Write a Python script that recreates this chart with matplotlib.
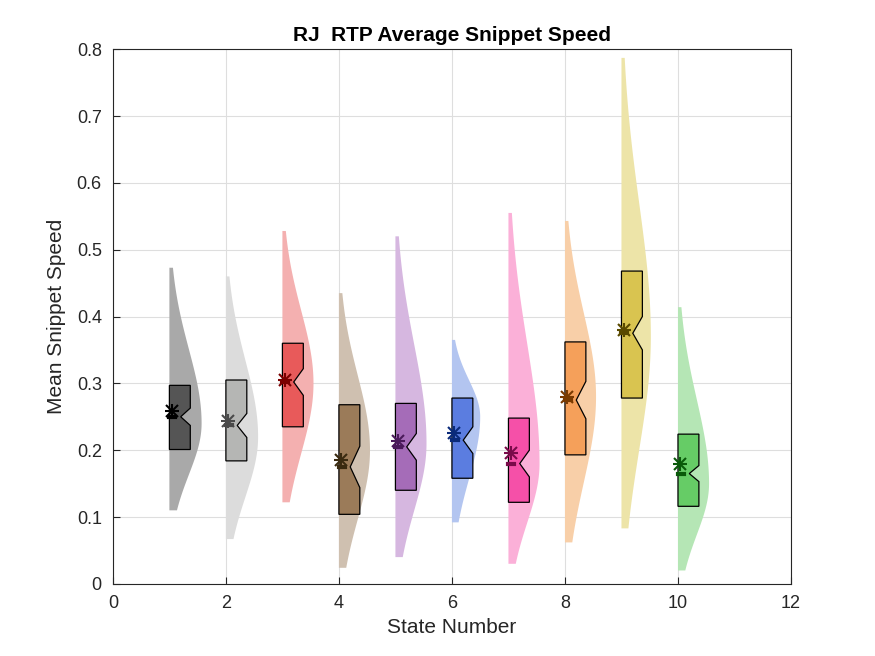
import numpy as np
import matplotlib.pyplot as plt
from matplotlib.patches import Polygon

plt.rcParams['font.family'] = ['Liberation Sans', 'DejaVu Sans']

states = np.arange(1, 11)
# violin extent and peak position
v_min = [0.110, 0.067, 0.122, 0.024, 0.040, 0.092, 0.030, 0.062, 0.083, 0.020]
v_max = [0.473, 0.460, 0.528, 0.435, 0.520, 0.365, 0.555, 0.543, 0.787, 0.414]
v_peak = [0.240, 0.220, 0.300, 0.200, 0.210, 0.250, 0.180, 0.280, 0.370, 0.150]
v_width = [0.57, 0.57, 0.55, 0.55, 0.55, 0.50, 0.55, 0.55, 0.52, 0.55]
# box statistics
q1 = [0.201, 0.184, 0.235, 0.104, 0.140, 0.158, 0.122, 0.193, 0.278, 0.116]
q3 = [0.297, 0.305, 0.360, 0.268, 0.270, 0.278, 0.248, 0.362, 0.468, 0.224]
med = [0.250, 0.237, 0.302, 0.175, 0.205, 0.215, 0.180, 0.275, 0.375, 0.165]
notch = [0.013, 0.018, 0.020, 0.031, 0.020, 0.020, 0.020, 0.028, 0.025, 0.012]
mean = [0.258, 0.243, 0.305, 0.185, 0.213, 0.226, 0.196, 0.280, 0.380, 0.180]

box_c = ['#555555', '#b5b6b4', '#e85a5a', '#9b7b59', '#a56cb8',
         '#5b7de0', '#f550a8', '#f5a05a', '#d9c450', '#66cc66']
vio_c = ['#a9a9a9', '#dcdcdc', '#f4b0b0', '#cfc0b0', '#d6b7e0',
         '#b3c5f0', '#fbb0d8', '#f8cfa8', '#ede4a8', '#b5e6b5']
dark_c = ['#000000', '#4a4a4a', '#7a0000', '#3a2a10', '#4a1a5a',
          '#0a2a7a', '#7a0a4a', '#7a3a00', '#5a4a00', '#0a5a0a']

fig = plt.figure(figsize=(8.75, 6.56), dpi=100)
ax = fig.add_axes([0.129, 0.11, 0.775, 0.815])
ax.grid(True, color='0.87', lw=0.8)
ax.set_axisbelow(True)

bw = 0.37
for i, s in enumerate(states):
    # half violin (smooth profile from extent/peak)
    y = np.linspace(v_min[i], v_max[i], 200)
    lo = v_peak[i] - v_min[i]
    hi = v_max[i] - v_peak[i]
    sig = np.where(y < v_peak[i], lo / 1.7, hi / 2.1)
    w = v_width[i] * np.exp(-0.5 * ((y - v_peak[i]) / sig) ** 2)
    w = np.maximum(w, 0.05)
    xs = np.concatenate([[s] * len(y), s + w[::-1]])
    ys = np.concatenate([y, y[::-1]])
    ax.fill(xs, ys, color=vio_c[i], lw=0, zorder=2)

    # notched box
    m, n = med[i], notch[i]
    pts = [(s, q1[i]), (s + bw, q1[i]), (s + bw, m - n), (s + 0.2, m),
           (s + bw, m + n), (s + bw, q3[i]), (s, q3[i])]
    ax.add_patch(Polygon(pts, closed=True, fc=box_c[i], ec='black', lw=0.9, zorder=3))
    ax.plot([s, s + 0.1], [m, m], color=dark_c[i], lw=3, zorder=4)
    ax.plot(s + 0.04, mean[i], marker='+', ms=10, color=dark_c[i], mew=1.5,
            linestyle='none', zorder=5)
    ax.plot(s + 0.04, mean[i], marker='x', ms=8, color=dark_c[i], mew=1.5,
            linestyle='none', zorder=5)

ax.set_xlim(0, 12)
ax.set_ylim(0, 0.8)
ax.set_xticks(np.arange(0, 13, 2))
ax.set_yticks(np.arange(0, 0.81, 0.1))
ax.set_yticklabels(['0', '0.1', '0.2', '0.3', '0.4', '0.5', '0.6', '0.7', '0.8'])
ax.tick_params(labelsize=13, direction='in', length=5, pad=8, colors='#262626')
for sp in ax.spines.values():
    sp.set_color('#262626')
ax.set_xlabel('State Number', fontsize=15, color='#262626', labelpad=4)
ax.set_ylabel('Mean Snippet Speed', fontsize=15, color='#262626', labelpad=8)
ax.set_title('RJ  RTP Average Snippet Speed', fontsize=15, fontweight='bold')
fig.savefig('out.png', dpi=100)
